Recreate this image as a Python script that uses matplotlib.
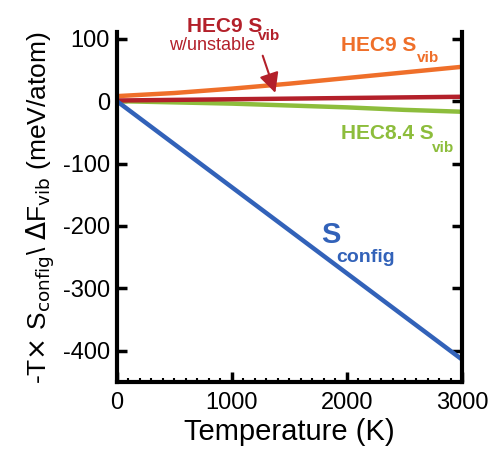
import numpy as np
import matplotlib.pyplot as plt

plt.rcParams['font.family'] = ['Liberation Sans', 'DejaVu Sans']
plt.rcParams['axes.unicode_minus'] = False

# Data
temperature = [0, 500, 1000, 1500, 2000, 2500, 3000]
hec9_svib = [8, 13, 20, 28, 37, 46, 55]
hec9_unstable = [1, 2, 3, 4, 5, 6, 7]
hec84_svib = [0, -2, -4, -7, -10, -14, -17]
s_config = [0, -69, -138, -207, -276, -345, -414]

c_orange = '#ef6f2a'
c_red = '#b3202a'
c_green = '#8dbd3c'
c_blue = '#3262b9'

fig = plt.figure(figsize=(4.91, 4.51), dpi=100)
ax = fig.add_axes([0.238, 0.153, 0.703, 0.775])

ax.plot(temperature, hec9_svib, color=c_orange, linewidth=3.2)
ax.plot(temperature, hec84_svib, color=c_green, linewidth=3.2)
ax.plot(temperature, hec9_unstable, color=c_red, linewidth=3.2)
ax.plot(temperature, s_config, color=c_blue, linewidth=3.2)

ax.set_xlim(0, 3000)
ax.set_ylim(-450, 110)
ax.set_xticks([0, 1000, 2000, 3000])
ax.set_yticks([100, 0, -100, -200, -300, -400])
ax.set_xticks(np.arange(0, 3001, 100), minor=True)

ax.spines['top'].set_visible(False)
for s in ['left', 'right', 'bottom']:
    ax.spines[s].set_linewidth(3)
ax.tick_params(axis='both', which='major', direction='in', width=2.5, length=7,
               labelsize=17, pad=7)
ax.tick_params(axis='y', right=True, pad=5)
ax.tick_params(axis='x', which='minor', direction='in', width=1.5, length=3)
ax.tick_params(axis='y', which='minor', left=False, right=False)

ax.set_xlabel('Temperature (K)', fontsize=21, labelpad=3)
ax.set_ylabel(r'-T$\times$ S$_{\rm config}$\ $\Delta$F$_{\rm vib}$ (meV/atom)',
              fontsize=19, labelpad=4)

ax.text(1950, 80, 'HEC9 S', color=c_orange, fontsize=15, fontweight='bold')
ax.text(2610, 62, 'vib', color=c_orange, fontsize=11, fontweight='bold')
ax.text(1950, -60, 'HEC8.4 S', color=c_green, fontsize=15, fontweight='bold')
ax.text(2740, -82, 'vib', color=c_green, fontsize=11, fontweight='bold')
ax.text(1780, -228, 'S', color=c_blue, fontsize=21, fontweight='bold')
ax.text(1910, -258, 'config', color=c_blue, fontsize=14, fontweight='bold')
ax.text(610, 110, 'HEC9 S', color=c_red, fontsize=15, fontweight='bold',
        clip_on=False)
ax.text(450, 82, 'w/unstable', color=c_red, fontsize=13, clip_on=False)
ax.text(1230, 98, 'vib', color=c_red, fontsize=11, fontweight='bold',
        clip_on=False)
ax.annotate('', xy=(1385, 9), xytext=(1260, 77),
            arrowprops=dict(arrowstyle='-|>', color=c_red, lw=1.5,
                            mutation_scale=30))

fig.savefig('out.png', dpi=100)
